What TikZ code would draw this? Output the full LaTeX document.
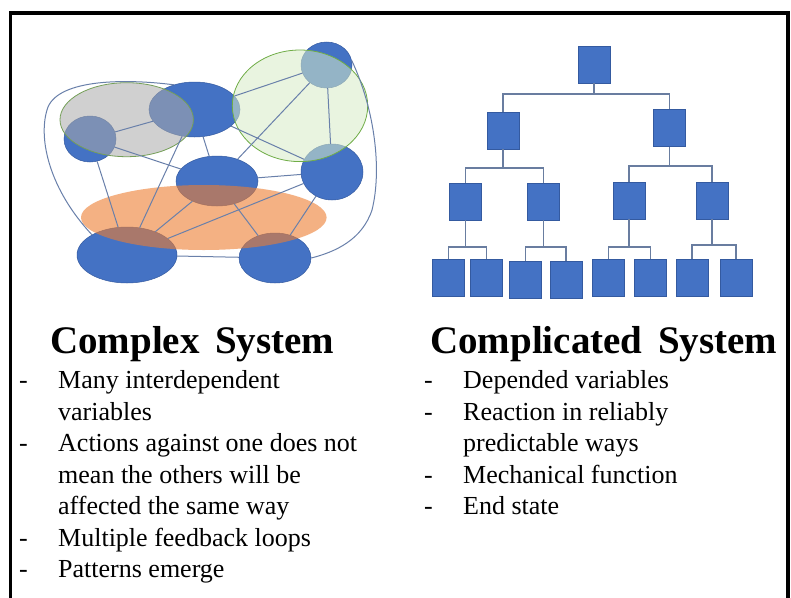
\documentclass[tikz,border=0pt]{standalone}
\usepackage{fontspec}
\setmainfont{Liberation Serif}
\usetikzlibrary{shapes.geometric}
\definecolor{cblue}{RGB}{68,114,196}
\definecolor{cblueD}{RGB}{52,90,160}
\definecolor{cline}{RGB}{105,128,170}
\definecolor{tline}{RGB}{105,125,160}
\definecolor{cgreen}{RGB}{112,173,71}
\definecolor{cgreenF}{RGB}{215,235,200}
\definecolor{cgray}{RGB}{170,170,170}
\definecolor{corange}{RGB}{237,125,49}
\tikzset{
  blob/.style={ellipse, fill=cblue, draw=cblueD, line width=0.5pt, inner sep=0pt},
  edge/.style={draw=cline, line width=1pt},
  box/.style={rectangle, fill=cblue, draw=cblueD, line width=0.8pt, inner sep=0pt, minimum width=32pt, minimum height=37pt},
  tl/.style={draw=tline, line width=1.2pt},
  title/.style={font=\fontsize{39}{39}\selectfont\bfseries, inner sep=0pt, anchor=base west},
  txt/.style={font=\fontsize{26}{31}\selectfont, inner sep=0pt, anchor=base west},
}
\begin{document}
\begin{tikzpicture}[x=1pt,y=-1pt]
\useasboundingbox (0,0) rectangle (791,597);
\fill[white] (0,0) rectangle (791,597);
% frame
\draw[line width=3.8pt] (10.5,600) -- (10.5,13) -- (788,13) -- (788,600);

% ---------- complex system ----------
\node[blob, minimum width=51pt, minimum height=46pt] (TR) at (326.5,65) {};
\node[blob, minimum width=91pt, minimum height=55pt] (TM) at (194.5,109.5) {};
\node[blob, minimum width=52pt, minimum height=46pt] (L) at (90,139) {};
\node[blob, minimum width=82pt, minimum height=50pt] (C) at (217,181) {};
\node[blob, minimum width=62pt, minimum height=56pt] (R) at (332,172) {};
\node[blob, minimum width=100pt, minimum height=56pt] (BL) at (127,255) {};
\node[blob, minimum width=72pt, minimum height=50pt] (BR) at (275,258) {};

% translucent groups
\filldraw[fill=cgray, fill opacity=0.55, draw=cgreen!70!gray, line width=0.8pt]
  (126.7,119.7) ellipse [x radius=66.7, y radius=37];
\filldraw[fill=cgreenF, fill opacity=0.55, draw=cgreen, line width=0.8pt]
  (300,105.8) ellipse [x radius=67.7, y radius=55.8];
\fill[corange, fill opacity=0.6] (203.8,217.5) ellipse [x radius=122.8, y radius=32.5];

% connectors
\foreach \a/\b in {L/TM, L/C, L/BL, TM/BL, TM/C, TM/TR, TM/R, TR/C, TR/R, C/R, C/BL, C/BR, R/BL, R/BR, BL/BR}
  \draw[edge] (\a) -- (\b);
\draw[edge] (BL.150) .. controls (50,190) and (38,140) .. (47,110)
  .. controls (55,80) and (120,78) .. (TM.130);
\draw[edge] (TR.10) .. controls (375,110) and (382,170) .. (372,210)
  .. controls (362,240) and (335,252) .. (BR.east);

% ---------- complicated system ----------
\node[box] (root) at (594,64.5) {};
\node[box] (A) at (503,130.5) {};
\node[box] (B) at (669.5,128) {};
\node[box] (A1) at (465.5,201.5) {};
\node[box] (A2) at (543.5,201.5) {};
\node[box] (B1) at (629,200.5) {};
\node[box] (B2) at (712,200.5) {};
\node[box] (a1) at (448.5,278) {};
\node[box] (a2) at (486.5,278) {};
\node[box] (a3) at (525.5,279.5) {};
\node[box] (a4) at (566,279.5) {};
\node[box] (b1) at (608.5,278) {};
\node[box] (b2) at (650.5,278) {};
\node[box] (b3) at (692,278) {};
\node[box] (b4) at (736,278) {};

\draw[tl] (root.south) -- (root.south |- 0,94);
\draw[tl] (A.north) |- (root.south |- 0,94) -| (B.north);
\draw[tl] (A.south) -- (A.south |- 0,168);
\draw[tl] (A1.north) |- (A.south |- 0,168) -| (A2.north);
\draw[tl] (B.south) -- (B.south |- 0,166);
\draw[tl] (B1.north) |- (B.south |- 0,166) -| (B2.north);
\draw[tl] (A1.south) -- (A1.south |- 0,247);
\draw[tl] (a1.north) |- (A1.south |- 0,247) -| (a2.north);
\draw[tl] (A2.south) -- (A2.south |- 0,247);
\draw[tl] (a3.north) |- (A2.south |- 0,247) -| (a4.north);
\draw[tl] (B1.south) -- (B1.south |- 0,247);
\draw[tl] (b1.north) |- (B1.south |- 0,247) -| (b2.north);
\draw[tl] (B2.south) -- (B2.south |- 0,245);
\draw[tl] (b3.north) |- (B2.south |- 0,245) -| (b4.north);

% ---------- texts ----------
\node[title] (t1) at (50,353) {Complex\hspace{0.4em}System};
\node[title] (t2) at (430,353) {Complicated\hspace{0.4em}System};

\node[txt] (d1) at (19,388.5) {-};
\node[txt] (l1) at (58,388.5) {Many interdependent};
\node[txt] (l2) at (58,420) {variables};
\node[txt] (d2) at (19,451.5) {-};
\node[txt] (l3) at (58,451.5) {Actions against one does not};
\node[txt] (l4) at (58,483) {mean the others will be};
\node[txt] (l5) at (58,514.5) {affected the same way};
\node[txt] (d3) at (19,546) {-};
\node[txt] (l6) at (58,546) {Multiple feedback loops};
\node[txt] (d4) at (19,577.5) {-};
\node[txt] (l7) at (58,577.5) {Patterns emerge};

\node[txt] (e1) at (424,388.5) {-};
\node[txt] (r1) at (463,388.5) {Depended variables};
\node[txt] (e2) at (424,420) {-};
\node[txt] (r2) at (463,420) {Reaction in reliably};
\node[txt] (r3) at (463,451.5) {predictable ways};
\node[txt] (e3) at (424,483) {-};
\node[txt] (r4) at (463,483) {Mechanical function};
\node[txt] (e4) at (424,514.5) {-};
\node[txt] (r5) at (463,514.5) {End state};
\end{tikzpicture}
\end{document}
